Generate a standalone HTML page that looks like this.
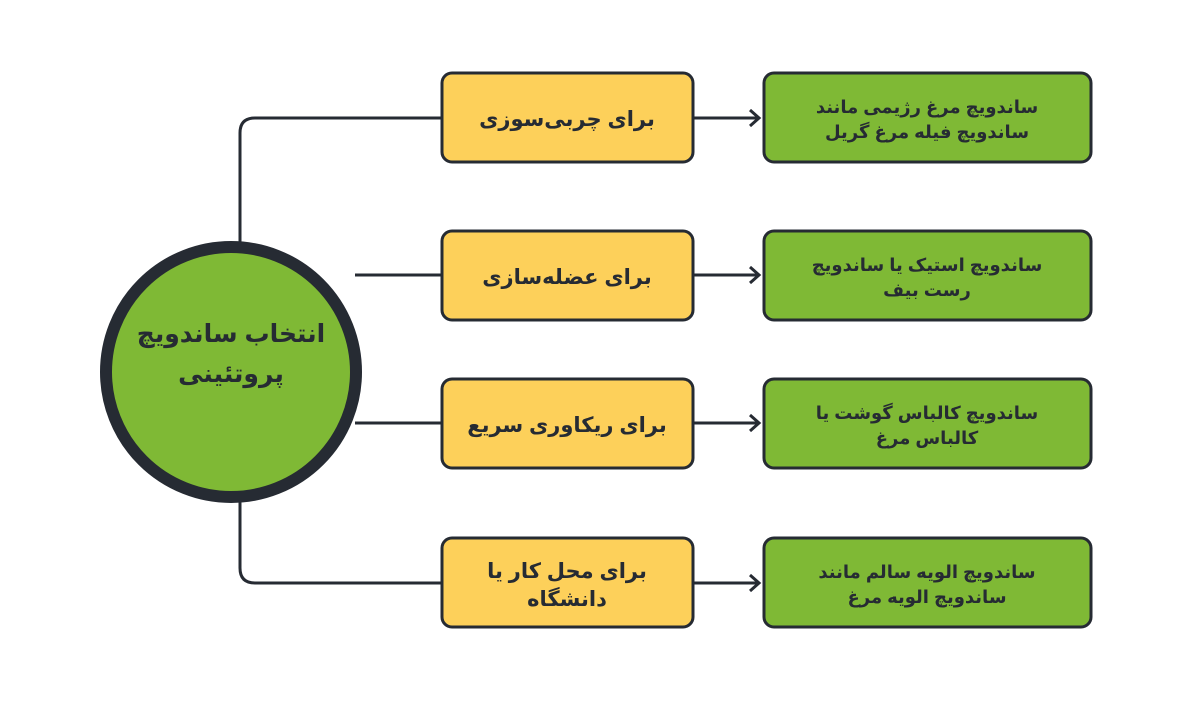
<!DOCTYPE html>
<html><head><meta charset="utf-8"><style>
html,body{margin:0;padding:0;background:#fff;}
svg text{font-family:"Liberation Sans","Noto Sans CJK SC","DejaVu Sans",sans-serif;font-weight:bold;fill:#262b33;}
</style></head><body>
<svg width="1200" height="700" viewBox="0 0 1200 700" xmlns="http://www.w3.org/2000/svg">
<g fill="none" stroke="#262b33" stroke-width="3">
<path d="M240 250 V133 Q240 118 255 118 H442"/>
<path d="M355 275 H442"/>
<path d="M355 423 H442"/>
<path d="M240 495 V568 Q240 583 255 583 H442"/>
<path d="M693 118 H759 M750 110 L759 118 L750 126"/>
<path d="M693 275 H759 M750 267 L759 275 L750 283"/>
<path d="M693 423 H759 M750 415 L759 423 L750 431"/>
<path d="M693 583 H759 M750 575 L759 583 L750 591"/>
</g>
<circle cx="231" cy="372" r="125" fill="#7fb935" stroke="#262b33" stroke-width="12"/>
<g fill="#fdd05a" stroke="#262b33" stroke-width="3">
<rect x="442" y="73" width="251" height="89" rx="10"/>
<rect x="442" y="231" width="251" height="89" rx="10"/>
<rect x="442" y="379" width="251" height="89" rx="10"/>
<rect x="442" y="538" width="251" height="89" rx="10"/>
</g>
<g fill="#7fb935" stroke="#262b33" stroke-width="3">
<rect x="764" y="73" width="327" height="89" rx="10"/>
<rect x="764" y="231" width="327" height="89" rx="10"/>
<rect x="764" y="379" width="327" height="89" rx="10"/>
<rect x="764" y="538" width="327" height="89" rx="10"/>
</g>
<g text-anchor="middle" direction="rtl">
<text x="231" y="342" font-size="25">انتخاب ساندویچ</text>
<text x="231" y="382" font-size="25">پروتئینی</text>
<text x="567" y="126" font-size="21">برای چربی‌سوزی</text>
<text x="567" y="284" font-size="21">برای عضله‌سازی</text>
<text x="567" y="432" font-size="21">برای ریکاوری سریع</text>
<text x="567" y="578" font-size="21">برای محل کار یا</text>
<text x="567" y="606" font-size="21">دانشگاه</text>
<g font-size="18">
<text x="927" y="113">ساندویچ مرغ رژیمی مانند</text>
<text x="927" y="138">ساندویچ فیله مرغ گریل</text>
<text x="927" y="271">ساندویچ استیک یا ساندویچ</text>
<text x="927" y="296">رست بیف</text>
<text x="927" y="419">ساندویچ کالباس گوشت یا</text>
<text x="927" y="444">کالباس مرغ</text>
<text x="927" y="578">ساندویچ الویه سالم مانند</text>
<text x="927" y="603">ساندویچ الویه مرغ</text>
</g>
</g>
</svg>
</body></html>
